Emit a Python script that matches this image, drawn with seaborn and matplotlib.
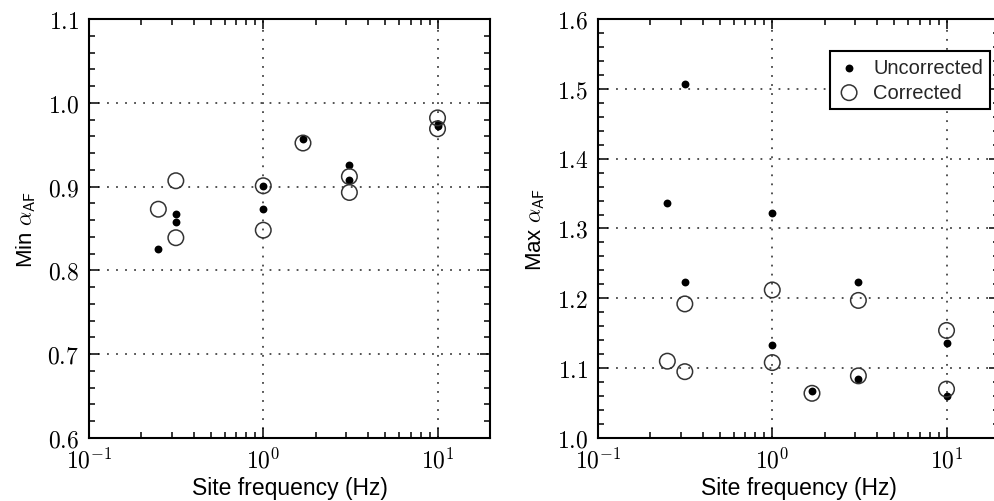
import numpy as np
import pandas as pd
import matplotlib
matplotlib.use("Agg")
import matplotlib.pyplot as plt
import matplotlib.ticker as mticker
import seaborn as sns

# Site natural frequencies (Hz), one entry per record
site_freq = [0.25, 0.315, 0.315, 1.0, 1.0, 1.69, 3.12, 3.12, 10.0, 10.0]

# Minimum amplification-factor ratio
min_uncorrected = [0.826, 0.867, 0.858, 0.901, 0.873, 0.957, 0.926, 0.908, 0.975, 0.972]
min_corrected = [0.873, 0.907, 0.839, 0.901, 0.848, 0.952, 0.912, 0.893, 0.982, 0.969]

# Maximum amplification-factor ratio
max_uncorrected = [1.336, 1.507, 1.224, 1.322, 1.133, 1.067, 1.223, 1.085, 1.136, 1.060]
max_corrected = [1.110, 1.192, 1.095, 1.212, 1.108, 1.064, 1.197, 1.089, 1.154, 1.070]

series_labels = ["Uncorrected", "Corrected"]
x_label = "Site frequency (Hz)"
y_labels = [r"Min $\alpha_{\mathsf{AF}}$", r"Max $\alpha_{\mathsf{AF}}$"]
y_limits = [(0.6, 1.1), (1.0, 1.6)]
x_limits = (0.1, 20)

sns.set_theme(style="ticks")
plt.rcParams.update({
    "font.family": ["Liberation Sans", "DejaVu Sans"],
    "mathtext.fontset": "cm",
    "axes.linewidth": 1.5,
    "axes.edgecolor": "black",
    "xtick.color": "black",
    "ytick.color": "black",
    "axes.labelcolor": "black",
})

df_min = pd.DataFrame({"freq": site_freq, "unc": min_uncorrected, "cor": min_corrected})
df_max = pd.DataFrame({"freq": site_freq, "unc": max_uncorrected, "cor": max_corrected})

fig = plt.figure(figsize=(9.95, 5.02), dpi=100)
ax_w = 401 / 995
ax_h = 419 / 502
ax_b = 63 / 502
ax1 = fig.add_axes([89 / 995, ax_b, ax_w, ax_h])
ax2 = fig.add_axes([598 / 995, ax_b, ax_w, ax_h])


def fmt_y(v, pos):
    return f"${v:.1f}$"


def fmt_x(v, pos):
    e = int(round(np.log10(v)))
    return f"$10^{{{e}}}$"


for ax, df, ylab, ylim in [(ax1, df_min, y_labels[0], y_limits[0]),
                           (ax2, df_max, y_labels[1], y_limits[1])]:
    sns.scatterplot(data=df, x="freq", y="unc", ax=ax, color="black",
                    s=32, marker="o", linewidth=0, label=series_labels[0], zorder=3)
    sns.scatterplot(data=df, x="freq", y="cor", ax=ax, s=125, marker="o",
                    facecolor="none", edgecolor="#333333", linewidth=1.1,
                    label=series_labels[1], zorder=4)
    ax.collections[-1].set_facecolor("none")

    ax.set_xscale("log")
    ax.set_xlim(*x_limits)
    ax.set_ylim(*ylim)
    ax.yaxis.set_major_locator(mticker.MultipleLocator(0.1))
    ax.yaxis.set_minor_locator(mticker.MultipleLocator(0.02))
    ax.yaxis.set_major_formatter(mticker.FuncFormatter(fmt_y))
    ax.xaxis.set_major_locator(mticker.LogLocator(base=10, numticks=10))
    ax.xaxis.set_minor_locator(mticker.LogLocator(base=10, subs=np.arange(2, 10), numticks=20))
    ax.xaxis.set_major_formatter(mticker.FuncFormatter(fmt_x))
    ax.xaxis.set_minor_formatter(mticker.NullFormatter())

    ax.tick_params(which="both", direction="in", top=True, right=True,
                   labelsize=17, width=1.1)
    ax.tick_params(which="major", length=7, pad=7)
    ax.tick_params(which="minor", length=4)
    ax.grid(True, which="major", linestyle=(0, (1, 4)), linewidth=1.3, color="#444444")
    for sp in ax.spines.values():
        sp.set_visible(True)
        sp.set_linewidth(1.5)

    ax.set_xlabel(x_label, fontsize=16.5, labelpad=2)
    ax.set_ylabel(ylab, fontsize=16, labelpad=7)
    ax.legend().remove()

leg = ax2.legend(loc="upper right", bbox_to_anchor=(0.978, 0.924), fontsize=14.5,
                 frameon=True, fancybox=False, framealpha=1, edgecolor="black",
                 handletextpad=0.6, borderpad=0.35, labelspacing=0.3,
                 borderaxespad=0, handlelength=1.2)
leg.get_frame().set_linewidth(1.5)

fig.savefig("out.png", dpi=100)
